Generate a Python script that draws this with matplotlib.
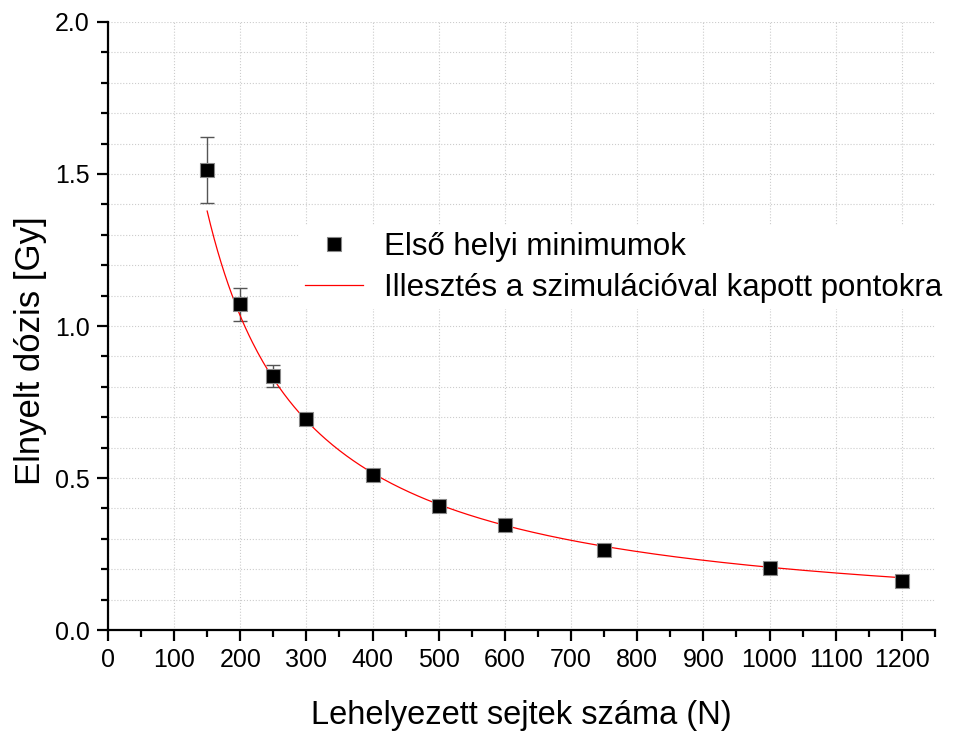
import numpy as np
import matplotlib.pyplot as plt
from matplotlib.ticker import MultipleLocator

plt.rcParams['font.family'] = ['Liberation Sans', 'DejaVu Sans']

# first local minima of absorbed dose vs. number of placed cells
cells = [150, 200, 250, 300, 400, 500, 600, 750, 1000, 1200]
dose = [1.513, 1.071, 0.836, 0.694, 0.510, 0.408, 0.345, 0.265, 0.203, 0.162]
dose_err = [0.108, 0.053, 0.036, 0.015, 0.008, 0.006, 0.005, 0.004, 0.003, 0.003]

# power-law fit y = a * N^b obtained from the simulated points
fit_a = 206.7
fit_b = -1.0
fit_range = (150, 1200)


def main():
    fig = plt.figure(figsize=(9.55, 7.31), dpi=100)
    ax = fig.add_axes([0.113, 0.138, 0.866, 0.832])

    n = np.linspace(fit_range[0], fit_range[1], 400)
    ax.plot(n, fit_a * n ** fit_b, color='red', lw=0.9, zorder=3,
            label='Illesztés a szimulációval kapott pontokra')

    ax.errorbar(cells, dose, yerr=dose_err, fmt='none', ecolor='#555555',
                elinewidth=1.0, capsize=5, capthick=1.0, zorder=2)
    ax.plot(cells, dose, ls='none', marker='s', ms=10, mfc='black',
            mec='#888888', mew=0.8, zorder=4, label='Első helyi minimumok')

    ax.set_xlim(0, 1250)
    ax.set_ylim(0, 2.0)
    ax.xaxis.set_major_locator(MultipleLocator(100))
    ax.xaxis.set_minor_locator(MultipleLocator(50))
    ax.yaxis.set_major_locator(MultipleLocator(0.5))
    ax.yaxis.set_minor_locator(MultipleLocator(0.1))
    ax.set_xticks(np.arange(0, 1201, 100))

    for side in ('top', 'right'):
        ax.spines[side].set_visible(False)
    for side in ('left', 'bottom'):
        ax.spines[side].set_linewidth(1.6)

    ax.tick_params(which='major', direction='out', length=8, width=1.6,
                   labelsize=18, pad=5)
    ax.tick_params(which='minor', direction='out', length=5, width=1.6)

    ax.grid(True, which='major', axis='x', color='#cccccc', ls=':', lw=0.8)
    ax.grid(True, which='both', axis='y', color='#cccccc', ls=':', lw=0.8)
    ax.set_axisbelow(True)

    ax.set_xlabel('Lehelyezett sejtek száma (N)', fontsize=23.5, labelpad=20)
    ax.set_ylabel('Elnyelt dózis [Gy]', fontsize=25)
    ax.yaxis.set_label_coords(-0.074, 0.459)

    handles, labels = ax.get_legend_handles_labels()
    leg = ax.legend(handles[::-1], labels[::-1], loc='upper left',
                    bbox_to_anchor=(0.231, 0.665), borderaxespad=0,
                    fontsize=22.5, frameon=True, facecolor='white',
                    edgecolor='none', framealpha=1, handlelength=1.85,
                    handletextpad=0.68, labelspacing=0.36, borderpad=0.2)
    leg.set_zorder(5)

    fig.savefig('out.png', dpi=100)


if __name__ == '__main__':
    main()
